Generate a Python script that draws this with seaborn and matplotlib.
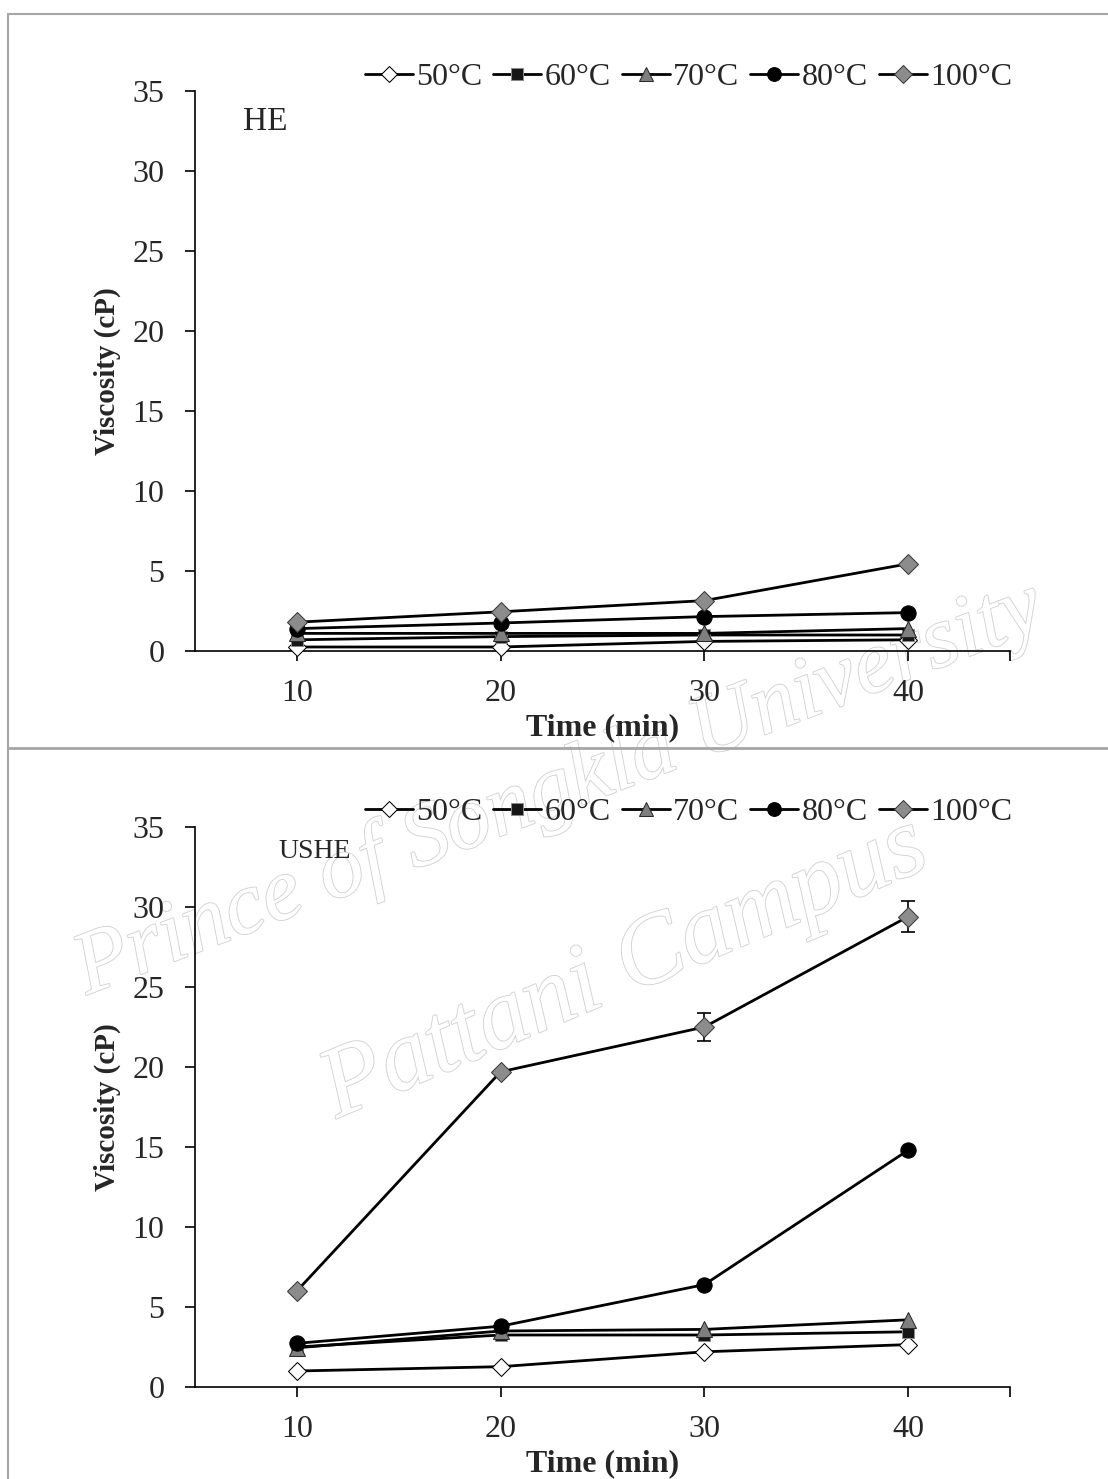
import numpy as np
import pandas as pd
import matplotlib
matplotlib.use("Agg")
import matplotlib.pyplot as plt
import seaborn as sns
from matplotlib.lines import Line2D
import matplotlib.patheffects as pe

# ---------------- data ----------------
time = [10, 20, 30, 40]
series = ["50°C", "60°C", "70°C", "80°C", "100°C"]

he_50 = [0.25, 0.25, 0.6, 0.7]
he_60 = [0.7, 0.9, 1.0, 1.0]
he_70 = [1.1, 1.1, 1.1, 1.4]
he_80 = [1.4, 1.75, 2.15, 2.4]
he_100 = [1.8, 2.45, 3.15, 5.45]

ushe_50 = [1.0, 1.27, 2.2, 2.65]
ushe_60 = [2.5, 3.25, 3.25, 3.45]
ushe_70 = [2.45, 3.5, 3.6, 4.2]
ushe_80 = [2.73, 3.8, 6.4, 14.8]
ushe_100 = [6.0, 19.7, 22.5, 29.4]
ushe_100_err = [0.0, 0.0, 0.9, 0.95]

y_ticks = [0, 5, 10, 15, 20, 25, 30, 35]
x_ticks = [10, 20, 30, 40]

# ---------------- style ----------------
sns.set_style("ticks")
plt.rcParams["font.family"] = ["Liberation Serif", "DejaVu Serif"]

styles = {
    "50°C": dict(marker="D", markerfacecolor="white", markeredgecolor="black", markersize=9),
    "60°C": dict(marker="s", markerfacecolor="#151515", markeredgecolor="#8a8a8a", markersize=9),
    "70°C": dict(marker="^", markerfacecolor="#7f7f7f", markeredgecolor="#2a2a2a", markersize=11),
    "80°C": dict(marker="o", markerfacecolor="black", markeredgecolor="black", markersize=11),
    "100°C": dict(marker="D", markerfacecolor="#8c8c8c", markeredgecolor="#3a3a3a", markersize=10),
}

W, H = 1108, 1479
fig = plt.figure(figsize=(W / 100, H / 100), dpi=100)

def px_axes(left, top, right, bottom):
    a = fig.add_axes([left / W, 1 - bottom / H, (right - left) / W, (bottom - top) / H])
    a.set_facecolor("none")
    return a

ax1 = px_axes(195, 91, 1010, 651)
ax2 = px_axes(195, 827, 1010, 1387)

panels = [
    (ax1, [he_50, he_60, he_70, he_80, he_100], None, "HE", 24, 0.059, 0.945, 77),
    (ax2, [ushe_50, ushe_60, ushe_70, ushe_80, ushe_100], ushe_100_err, "USHE", 20, 0.102, 0.957, 812),
]

for ax, vals, err, label, lsize, tx, ty, leg_y in panels:
    for name, v in zip(series, vals):
        df = pd.DataFrame({"Time": time, "Viscosity": v})
        sns.lineplot(data=df, x="Time", y="Viscosity", ax=ax, color="black",
                     linewidth=2.0, clip_on=False, zorder=3, label=name,
                     **styles[name])
    if err is not None:
        ax.errorbar(time, vals[-1], yerr=err, fmt="none", ecolor="black",
                    elinewidth=1.2, capsize=5, capthick=1.2, zorder=2)
    ax.set_xlim(5, 45)
    ax.set_ylim(0, 35)
    ax.set_xticks(x_ticks)
    ax.set_xticks([45], minor=True)
    ax.set_yticks(y_ticks)
    ax.tick_params(axis="both", which="both", direction="out", length=7, width=1.2,
                   color="black", labelsize=23)
    ax.tick_params(axis="y", pad=15)
    ax.tick_params(axis="x", pad=13)
    ax.tick_params(axis="x", which="minor", length=7, width=1.2)
    for s in ["top", "right"]:
        ax.spines[s].set_visible(False)
    for s in ["left", "bottom"]:
        ax.spines[s].set_linewidth(1.2)
        ax.spines[s].set_color("black")
    ax.set_xlabel("Time (min)", fontsize=23, fontweight="bold", labelpad=4)
    ax.set_ylabel("Viscosity (cP)", fontsize=21, fontweight="bold", labelpad=8)
    ax.text(tx, ty, label, transform=ax.transAxes, fontsize=lsize, va="center", ha="left")
    ax.get_legend().remove()
    handles, labels = ax.get_legend_handles_labels()
    fig.legend(handles, labels, loc="center right",
               bbox_to_anchor=(1012 / W, 1 - leg_y / H), bbox_transform=fig.transFigure,
               ncol=5, frameon=False, fontsize=23, handlelength=1.5, markerscale=0.9,
               handletextpad=0.1, columnspacing=0.35, borderpad=0, borderaxespad=0)

# panel frames
gray = "#a6a6a6"
fig.add_artist(Line2D([8 / W, 1.0], [1 - 14 / H, 1 - 14 / H], color=gray, lw=1.5, transform=fig.transFigure))
fig.add_artist(Line2D([8 / W, 8 / W], [1 - 14 / H, 0], color=gray, lw=1.5, transform=fig.transFigure))
fig.add_artist(Line2D([8 / W, 1.0], [1 - 748 / H, 1 - 748 / H], color=gray, lw=2.0, transform=fig.transFigure))

# watermark (drawn beneath the transparent axes)
wm = [pe.withStroke(linewidth=1.3, foreground="#d2d2d2")]
fig.text(560 / W, 1 - 790 / H, "Prince of Songkla University", fontsize=64, style="italic",
         color="white", rotation=21, ha="center", va="center",
         path_effects=wm, zorder=-1)
fig.text(625 / W, 1 - 970 / H, "Pattani Campus", fontsize=72, style="italic",
         color="white", rotation=23, ha="center", va="center",
         path_effects=wm, zorder=-1)

fig.savefig("out.png", dpi=100)
